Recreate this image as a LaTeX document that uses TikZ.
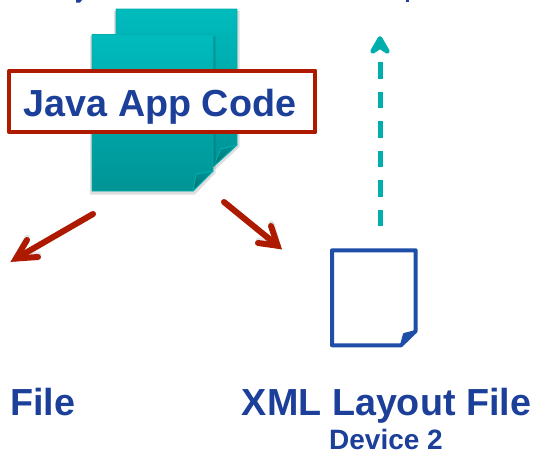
\documentclass[tikz,border=0pt]{standalone}
\usepackage{fontspec}
\setmainfont{Liberation Sans}
\usetikzlibrary{arrows.meta,positioning}
\definecolor{tealtop}{HTML}{00BBBD}
\definecolor{tealbot}{HTML}{009496}
\definecolor{tealfold}{HTML}{006E70}
\definecolor{tealline}{HTML}{00AEAE}
\definecolor{darkred}{HTML}{AD1A00}
\definecolor{navy}{HTML}{1C3F99}
\definecolor{docblue}{HTML}{1F4EA8}
\tikzset{
  pagefill/.style={top color=tealtop,bottom color=tealbot,draw=tealline,line width=.7pt,line join=round},
  foldfill/.style={top color=tealbot,bottom color=tealfold,draw=tealline,line width=.9pt,line join=round},
  softshadow/.style={fill=black,opacity=.13},
  redline/.style={draw=darkred,line width=6pt,line cap=round,line join=miter},
  redshadow/.style={draw=black,opacity=.1,line width=6pt,line cap=round,line join=miter,shift={(.5pt,2.5pt)}},
  tealarrow/.style={draw=tealline,line width=5pt,dash pattern=on 16.5pt off 13pt},
  tealshadow/.style={draw=black,opacity=.07,line width=5pt,dash pattern=on 16.5pt off 13pt,shift={(0pt,2.5pt)}},
  tealtip/.style={draw=tealline,fill=tealline,line width=4.6pt,line cap=round,line join=round},
  boxlabel/.style={draw=darkred,fill=white,line width=4pt,line join=round,minimum width=306pt,minimum height=61.8pt,inner sep=0pt,text=navy,font=\bfseries\fontsize{37.7}{40}\selectfont},
  biglabel/.style={text=navy,inner sep=0pt,anchor=base,font=\bfseries\fontsize{37.7}{40}\selectfont},
  smalllabel/.style={text=navy,inner sep=0pt,anchor=base,font=\bfseries\fontsize{28}{30}\selectfont},
  docshape/.style={draw=docblue,fill=white,line width=4pt,line join=round}
}
\begin{document}
\begin{tikzpicture}[x=1pt,y=-1pt]
\useasboundingbox (0,0) rectangle (535,453);
% clipped descenders of the line cut off above
\fill[navy] (76,0) -- (82,0) -- (80,2.5) -- (76,2.5) -- cycle;
\fill[navy] (405.5,0) rectangle (408.5,2);
% back page
\fill[softshadow] (114,11) -- (239.5,11) -- (239.5,147) -- (216,169) -- (114,169) -- cycle;
\draw[pagefill] (116,9) -- (237,9) -- (237,145) -- (214,166) -- (116,166) -- cycle;
\draw[foldfill] (237,145) -- (220.5,149) -- (214,166) -- cycle;
% front page
\fill[softshadow] (90,36) -- (215.5,36) -- (215.5,173) -- (195,194.5) -- (90,194.5) -- cycle;
\draw[pagefill] (92,34.5) -- (213,34.5) -- (213,171) -- (193,191) -- (92,191) -- cycle;
\draw[foldfill] (213,171) -- (196,174) -- (193,191) -- cycle;
% label box
\node[boxlabel] (java) at (162.3,101.4) {\raisebox{-14.6pt}[0pt][0pt]{Java App Code}\hspace*{4.6pt}};
% red connectors
\coordinate (rs1) at (93,214);
\coordinate (re1) at (16,258.5);
\coordinate (rs2) at (224,202);
\coordinate (re2) at (277.6,245.7);
\draw[redshadow] (rs1) -- (re1);
\draw[redshadow] (27,240) -- (re1) -- (38,257);
\draw[redshadow] (rs2) -- (re2);
\draw[redshadow] (271,226) -- (re2) -- (258,243);
\draw[redline] (rs1) -- (re1);
\draw[redline] (27,240) -- (re1) -- (38,257);
\draw[redline] (rs2) -- (re2);
\draw[redline] (271,226) -- (re2) -- (258,243);
% XML document
\draw[docshape] (332,250.3) -- (415.7,250.3) -- (415.7,331) -- (401,345.3) -- (332,345.3) -- cycle;
\draw[docshape,fill=docblue,line width=2pt] (415.7,331) -- (404,334) -- (401,345.3) -- cycle;
\coordinate (xmldoc) at (380,226);
% teal dashed connector
\coordinate (de) at (380,62);
\draw[tealshadow] (xmldoc) -- (de);
\draw[tealarrow] (xmldoc) -- (de);
\fill[black,opacity=.08] (372.5,54) -- (380,41) -- (387.5,54) -- (380,49) -- cycle;
\draw[tealtip] (372.5,51.5) -- (380,38.5) -- (387.5,51.5) -- (380,46.5) -- cycle;
% labels
\node[biglabel] (file) at (42.5,415) {File};
\node[biglabel] (xml) at (386.5,415) {XML Layout File};
\node[smalllabel] (dev) at (386,449) {Device 2};
\end{tikzpicture}
\end{document}
